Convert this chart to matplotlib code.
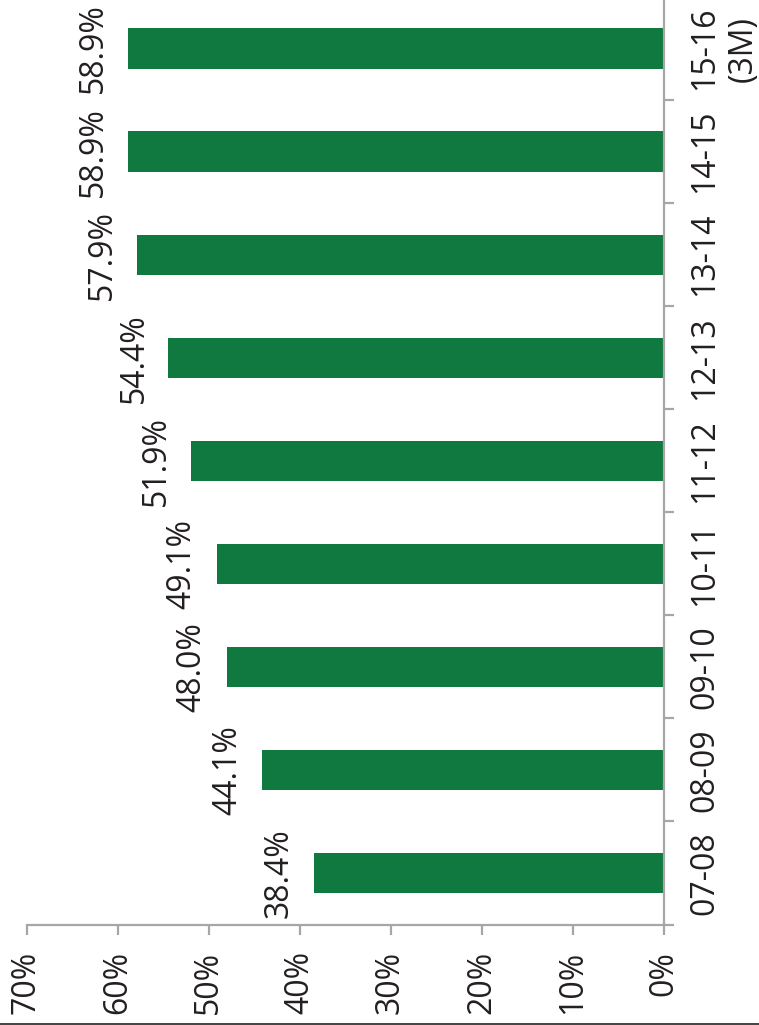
import matplotlib
matplotlib.use("Agg")
import matplotlib.pyplot as plt
from matplotlib.ticker import FixedLocator
from matplotlib.lines import Line2D

categories = ["07-08", "08-09", "09-10", "10-11", "11-12", "12-13", "13-14", "14-15", "15-16\n(3M)"]
values = [38.4, 44.1, 48.0, 49.1, 51.9, 54.4, 57.9, 58.9, 58.9]
value_labels = ["38.4%", "44.1%", "48.0%", "49.1%", "51.9%", "54.4%", "57.9%", "58.9%", "58.9%"]
axis_ticks = [0, 10, 20, 30, 40, 50, 60, 70]
axis_tick_labels = ["0%", "10%", "20%", "30%", "40%", "50%", "60%", "70%"]

plt.rcParams['font.family'] = ['Open Sans', 'DejaVu Sans']

W, H = 759, 1025
fig = plt.figure(figsize=(W / 100, H / 100), dpi=100)
left = 26.5 / W
right = 663.5 / W
bottom = (H - 924.5) / H
top = 1 + 3 / H
ax = fig.add_axes([left, bottom, right - left, top - bottom])

bar_color = "#10793f"
axis_color = "#a6a6a6"
text_color = "#231f20"
fs = 23

y = list(range(len(categories)))
ax.barh(y, values, height=0.39, color=bar_color, zorder=2)

ax.set_xlim(70, 0)
ax.set_ylim(-0.5, len(categories) - 0.5)

for i, (v, lab) in enumerate(zip(values, value_labels)):
    ax.annotate(lab, xy=(v, i), xytext=(-18 * 0.72, 0), textcoords="offset points",
                ha="right", va="center", rotation=90, fontsize=fs, color=text_color)

for s in ["top", "left"]:
    ax.spines[s].set_visible(False)
for s in ["bottom", "right"]:
    ax.spines[s].set_color(axis_color)
    ax.spines[s].set_linewidth(1.6)

ax.yaxis.tick_right()
ax.set_yticks(y)
ax.set_yticklabels(categories, rotation=90, fontsize=fs, color=text_color,
                   va="center", ha="left", multialignment="center")
ax.yaxis.set_minor_locator(FixedLocator([i - 0.5 for i in range(len(categories) + 1)]))
ax.tick_params(axis="y", which="major", length=0, pad=18)
ax.tick_params(axis="y", which="minor", length=7.2, width=1.6, color=axis_color, right=True, left=False)

ax.set_xticks(axis_ticks)
ax.set_xticklabels(axis_tick_labels, rotation=90, fontsize=fs, color=text_color)
ax.tick_params(axis="x", which="major", length=7.2, width=1.6, color=axis_color, pad=12)

fig.add_artist(Line2D([0, 1], [1.5 / H, 1.5 / H], color="#222222", linewidth=1.2, transform=fig.transFigure))

fig.savefig("out.png", dpi=100)
